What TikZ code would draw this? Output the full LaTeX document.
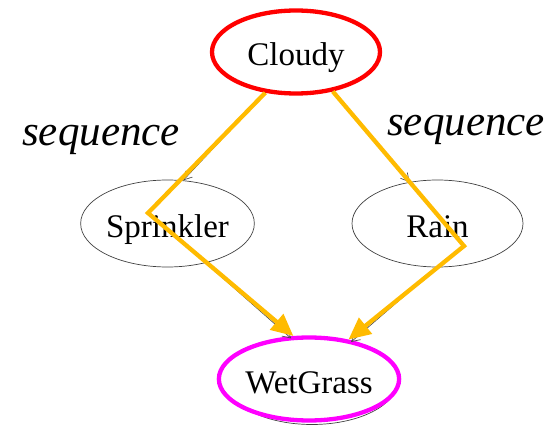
\documentclass[tikz,border=0pt]{standalone}
\usepackage{fontspec}
\setmainfont{Liberation Serif}
\usetikzlibrary{shapes.geometric,arrows.meta}
\definecolor{amber}{RGB}{255,187,0}
\definecolor{hotmag}{RGB}{255,0,255}
\definecolor{hotred}{RGB}{255,0,0}
\begin{document}
\begin{tikzpicture}[x=1pt,y=-1pt,
    bnode/.style={ellipse, draw=black!75, line width=0.7pt, minimum width=171pt, minimum height=87pt, inner sep=0pt, text height=28pt, text depth=0pt, font=\fontsize{33}{36}\selectfont},
    hinode/.style={ellipse, line width=4.3pt, minimum width=168pt, minimum height=83pt, inner sep=0pt, text height=28pt, text depth=0pt, font=\fontsize{33}{36}\selectfont},
    link/.style={draw=black!70, line width=0.7pt, -{Straight Barb[length=8pt,width=9pt]}},
    seq/.style={draw=amber, line width=4.3pt, -{Triangle[length=22pt,width=20pt]}},
    tag/.style={font=\fontsize{43}{48}\selectfont\itshape}]
\useasboundingbox (0,0) rectangle (557,425);
\node[hinode, draw=hotred, fill=white] (cloudy) at (296,52) {Cloudy};
\node[bnode] (sprinkler) at (167.5,223.5) {Sprinkler};
\node[bnode] (rain) at (437.5,223.5) {Rain};
\node[bnode] (wetgrass) at (312,381) {};
\node[hinode, draw=hotmag, fill=white] (wetgrasshl) at (309,379) {WetGrass};
\draw[link] (cloudy.233) -- (sprinkler.70);
\draw[link] (cloudy.313) -- (rain.124);
\draw[link] (sprinkler.-46) -- (wetgrass.116);
\draw[link] (rain.south) -- (wetgrass.45);
\coordinate (turnL) at (148,213);
\coordinate (turnR) at (464,246);
\draw[seq] (cloudy.233) -- (turnL) -- (wetgrasshl.110);
\draw[seq] (cloudy.313) -- (turnR) -- (wetgrasshl.45);
\node[tag] (seqL) at (101,140) {sequence};
\node[tag] (seqR) at (466,130) {sequence};
\end{tikzpicture}
\end{document}
